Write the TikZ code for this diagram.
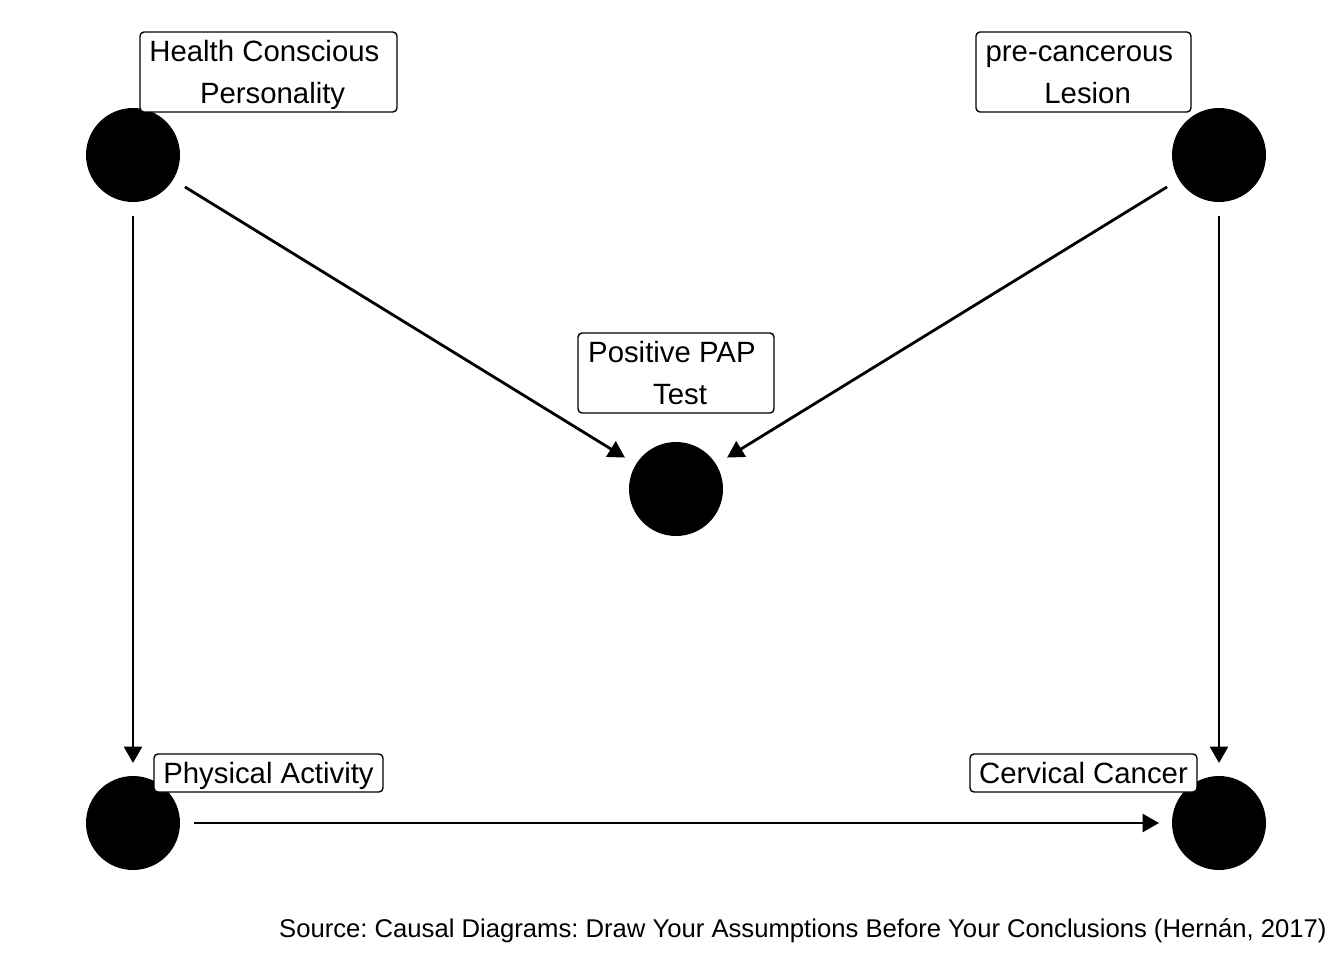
\documentclass[tikz,border=0pt]{standalone}
\usepackage{fontspec}
\setmainfont{Liberation Sans}
\usetikzlibrary{arrows.meta}
\newcommand\lblTop{\rule{0pt}{0.57cm}}
\newcommand\lblBot{\rule[-0.14cm]{0pt}{0.14cm}}
\begin{document}
\frenchspacing
\begin{tikzpicture}[x=0.02cm,y=-0.02cm,
  dot/.style={circle,fill=black,draw=none,minimum size=1.88cm,inner sep=0pt,outer sep=0pt},
  lbl/.style={draw=black,fill=white,line width=0.8pt,rounded corners=0.08cm,inner sep=0pt,align=center,font=\fontsize{16.7pt}{23.8pt}\selectfont},
  edge/.style={line width=1.6pt,-{Triangle[length=0.33cm,width=0.36cm]},shorten <=0.28cm,shorten >=0.26cm}]
\useasboundingbox (0,0) rectangle (1344,960);
\node[dot] (hcp) at (133,155) {};
\node[dot] (pcl) at (1219,155) {};
\node[dot] (pap) at (676,489) {};
\node[dot] (pa) at (133,823) {};
\node[dot] (cc) at (1219,823) {};
\draw[edge] (hcp) -- (pap);
\draw[edge] (pcl) -- (pap);
\draw[edge] (hcp) -- (pa);
\draw[edge] (pcl) -- (cc);
\draw[edge] (pa) -- (cc);
\node[lbl,minimum width=5.14cm,minimum height=1.6cm] (lhcp) at (268.5,72) {\lblTop Health Conscious\hspace*{0.28em}\\\hspace*{0.28em}Personality\lblBot};
\node[lbl,minimum width=4.3cm,minimum height=1.6cm] (lpcl) at (1083.5,72) {\lblTop pre-cancerous\hspace*{0.28em}\\\hspace*{0.28em}Lesion\lblBot};
\node[lbl,minimum width=3.92cm,minimum height=1.6cm] (lpap) at (676,373) {\lblTop Positive PAP\hspace*{0.28em}\\\hspace*{0.28em}Test\lblBot};
\node[lbl,minimum width=4.58cm,minimum height=0.76cm] (lpa) at (268.5,773) {\lblTop Physical Activity\lblBot};
\node[lbl,minimum width=4.54cm,minimum height=0.76cm] (lcc) at (1083.5,773) {\lblTop Cervical Cancer\lblBot};
\node[anchor=base east,inner sep=0pt,font=\fontsize{14.6pt}{17pt}\selectfont] (src) at (1327,937) {Source: Causal Diagrams: Draw Your Assumptions Before Your Conclusions (Hernán, 2017)};
\end{tikzpicture}
\end{document}
